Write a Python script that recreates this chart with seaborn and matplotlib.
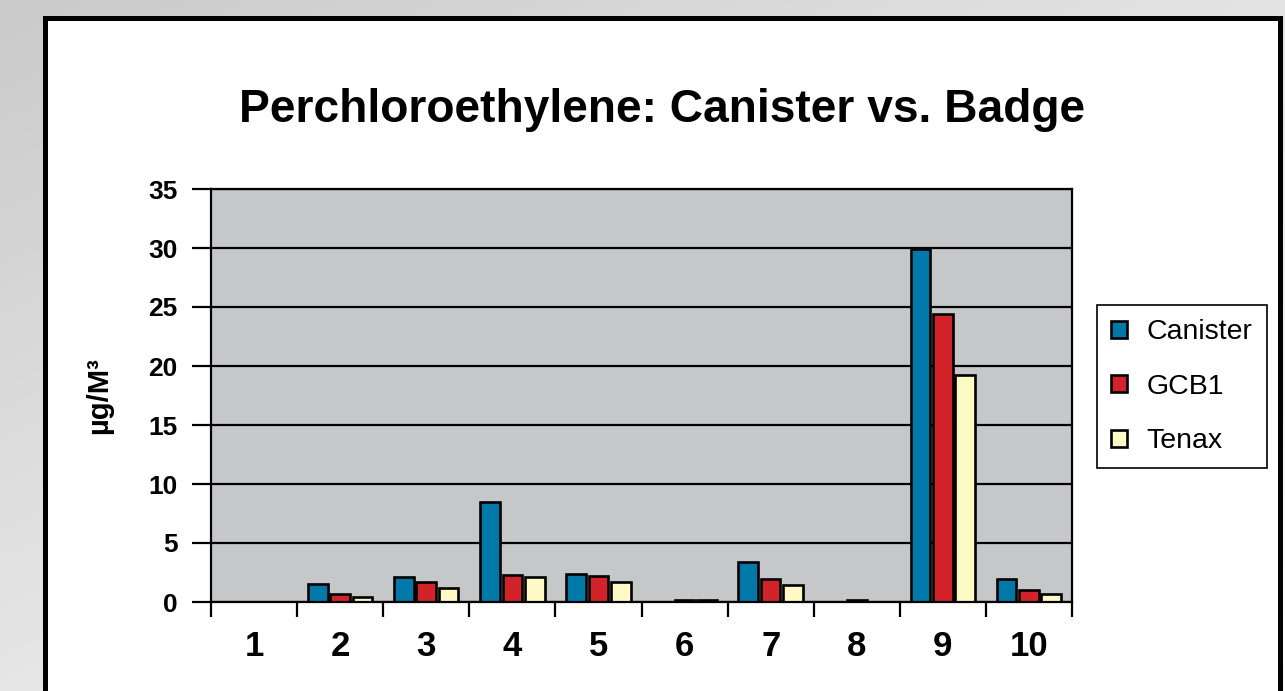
import numpy as np
import pandas as pd
import matplotlib
matplotlib.use("Agg")
import matplotlib.pyplot as plt
from matplotlib.patches import Rectangle
import seaborn as sns

# ---- data ----
sites = ["1", "2", "3", "4", "5", "6", "7", "8", "9", "10"]
canister = [0, 1.5, 2.15, 8.5, 2.35, 0, 3.35, 0, 29.9, 1.95]
gcb1 = [0, 0.7, 1.7, 2.3, 2.2, 0.2, 1.95, 0.2, 24.4, 1.0]
tenax = [0, 0.45, 1.2, 2.1, 1.7, 0.2, 1.45, 0, 19.2, 0.65]
samplers = ["Canister", "GCB1", "Tenax"]
colors = ["#0078A8", "#D2232A", "#FFF9C6"]

df = pd.DataFrame({"site": sites * 3,
                   "sampler": np.repeat(samplers, len(sites)),
                   "value": canister + gcb1 + tenax})

sns.set_style("white")
plt.rcParams["font.family"] = ["Liberation Sans", "DejaVu Sans"]
plt.rcParams["text.color"] = "black"
plt.rcParams["axes.labelcolor"] = "black"
plt.rcParams["xtick.color"] = "black"
plt.rcParams["ytick.color"] = "black"

W, H = 1285, 691
fig = plt.figure(figsize=(W / 100, H / 100), dpi=100)

# grey photo-like backdrop
bg = fig.add_axes([0, 0, 1, 1], zorder=-10)
yy, xx = np.mgrid[0:1:200j, 0:1:400j]
shade = 0.79 + 0.11 * yy + 0.10 * xx
bg.imshow(shade, cmap="gray", vmin=0, vmax=1, aspect="auto", extent=[0, 1, 0, 1])
bg.axis("off")

# white slide panel with thick black frame
fig.patches.append(Rectangle((45 / W, -0.05), (1280 - 45) / W, 1.05 - 18 / H,
                             transform=fig.transFigure, facecolor="white",
                             edgecolor="black", linewidth=3.6, zorder=-5))

ax = fig.add_axes([211 / W, 1 - 602 / H, (1072 - 211) / W, (602 - 189) / H])
ax.set_facecolor("#C6C7C9")

sns.barplot(data=df, x="site", y="value", hue="sampler", palette=colors,
            width=0.78, gap=0.12, edgecolor="black", linewidth=1.9,
            saturation=1, ax=ax)

ax.set_xlim(-0.5, 9.5)
ax.set_ylim(0, 35)
ax.set_yticks(range(0, 36, 5))
ax.yaxis.grid(True, color="black", linewidth=1.6)
ax.set_axisbelow(True)
for s in ax.spines.values():
    s.set_color("black")
    s.set_linewidth(1.6)
    s.set_visible(True)

# tick marks between categories, labels centred
ax.set_xticks(np.arange(-0.5, 10, 1), minor=True)
ax.tick_params(axis="x", which="major", length=0, labelsize=25, pad=20)
ax.tick_params(axis="x", which="minor", length=10.5, width=1.6, direction="out")
ax.tick_params(axis="y", length=14, width=1.6, direction="out",
               labelsize=19, pad=10, left=True)
ax.tick_params(axis="x", bottom=True, which="both")
plt.setp(ax.get_xticklabels() + ax.get_yticklabels(), fontweight="bold")

ax.set_xlabel("")
ax.set_ylabel("µg/M³", fontsize=21, fontweight="bold")
ax.yaxis.set_label_coords(-0.114, 0.5)

fig.text(662 / W, 1 - 122 / H, "Perchloroethylene: Canister vs. Badge",
         ha="center", va="baseline", fontsize=33.2, fontweight="bold")

handles, labels = ax.get_legend_handles_labels()
ax.legend(handles, labels, loc="upper left",
          bbox_to_anchor=(1097 / W, 1 - 305 / H), bbox_transform=fig.transFigure,
          frameon=True, fancybox=False, edgecolor="black", framealpha=1,
          fontsize=20.5, handlelength=0.55, handleheight=0.55, handletextpad=0.7,
          labelspacing=1.0, borderpad=0.5, borderaxespad=0)
ax.get_legend().get_frame().set_linewidth(1.2)

fig.savefig("out.png", dpi=100)
